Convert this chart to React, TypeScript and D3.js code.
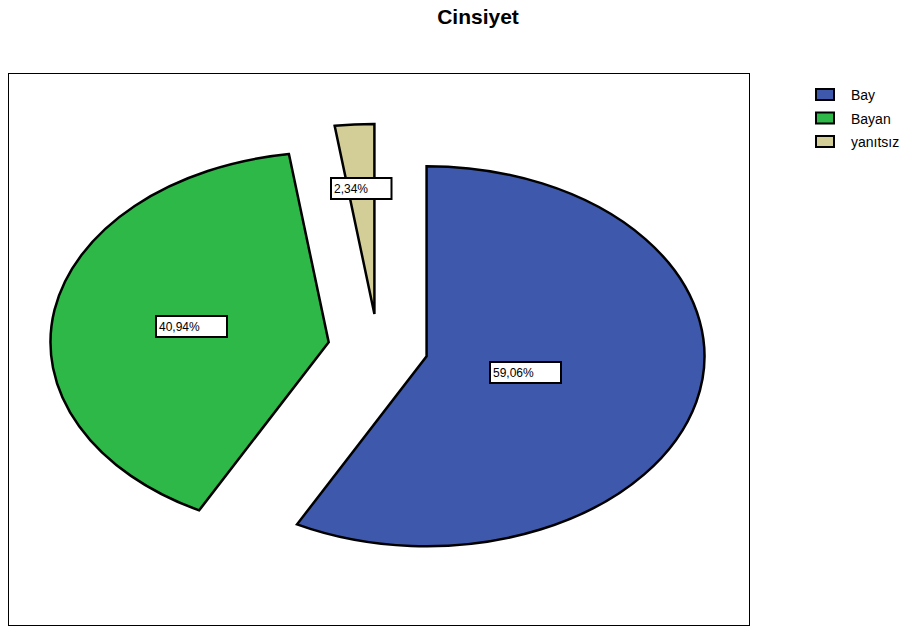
import React from 'react';
import * as d3 from 'd3';

const title = 'Cinsiyet';
const categories = ['Bay', 'Bayan', 'yanıtsız'];
const percents = [59.06, 40.94, 2.34];
const colors = ['#3E58AC', '#2EB848', '#D3CE97'];

// where each label box sits along its slice (fraction of radius)
const labelFrac = [0.366, 0.502, 0.66];

const W = 905;
const H = 626;
const frame = { x: 8, y: 73, w: 741, h: 552 };
const cx = 378;
const cy = 348;
const rx = 278;
const ry = 190;
const explode = 0.18;

const fmt = (v: number) => d3.format('.2f')(v).replace('.', ',') + '%';

export default function App() {
  const pie = d3.pie<number>().sort(null).value((d) => d);
  const arcs = pie(percents);
  const arc = d3.arc<d3.PieArcDatum<number>>().innerRadius(0).outerRadius(1);

  const mid = (a: d3.PieArcDatum<number>) => (a.startAngle + a.endAngle) / 2;

  return (
    <svg
      width={W}
      height={H}
      style={{ position: 'absolute', left: 0, top: 0, background: '#fff' }}
      fontFamily="'Liberation Sans', Arial, sans-serif"
    >
      <text x={478} y={24} textAnchor="middle" fontSize={21} fontWeight="bold" fill="#000">
        {title}
      </text>

      <rect
        x={frame.x + 0.5}
        y={frame.y + 0.5}
        width={frame.w}
        height={frame.h}
        fill="none"
        stroke="#000"
        strokeWidth={1}
        shapeRendering="crispEdges"
      />

      <g transform={`translate(${cx},${cy}) scale(${rx},${ry})`}>
        {arcs.map((a, i) => {
          const m = mid(a);
          return (
            <path
              key={categories[i]}
              d={arc(a) || ''}
              transform={`translate(${explode * Math.sin(m)},${-explode * Math.cos(m)})`}
              fill={colors[i]}
              stroke="#000"
              strokeWidth={2.5}
              strokeLinejoin="miter"
              vectorEffect="non-scaling-stroke"
            />
          );
        })}
      </g>

      {arcs.map((a, i) => {
        const m = mid(a);
        const ox = cx + explode * Math.sin(m) * rx;
        const oy = cy - explode * Math.cos(m) * ry;
        const lx = ox + labelFrac[i] * Math.sin(m) * rx;
        const ly = oy - labelFrac[i] * Math.cos(m) * ry;
        const label = fmt(percents[i]);
        const bw = label.length * 10.5 + 8;
        const bh = 21;
        return (
          <g key={'l' + i} transform={`translate(${Math.round(lx - bw / 2)},${Math.round(ly - bh / 2)})`}>
            <rect width={bw} height={bh} fill="#fff" stroke="#000" strokeWidth={2} />
            <text x={3} y={15} fontSize={12} fill="#000">
              {label}
            </text>
          </g>
        );
      })}

      <g transform="translate(816,89)">
        {categories.map((c, i) => (
          <g key={c} transform={`translate(0,${i * 23.5})`}>
            <rect x={0} y={0} width={18} height={11} fill={colors[i]} stroke="#000" strokeWidth={2} />
            <text x={35} y={11} fontSize={14} fill="#000">
              {c}
            </text>
          </g>
        ))}
      </g>
    </svg>
  );
}
